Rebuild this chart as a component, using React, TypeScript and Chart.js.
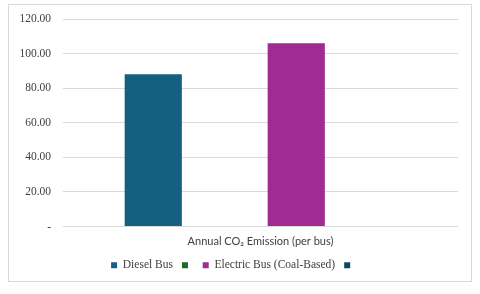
import React, { useEffect, useRef } from "react";
import { Chart, registerables } from "chart.js";

Chart.register(...registerables);

const categories = ["Annual CO\u2082 Emission (per bus)"];
const seriesNames = ["Diesel Bus", "", "Electric Bus (Coal-Based)", ""];
const dieselValues = [88.0];
const blankGreenValues: (number | null)[] = [null];
const electricValues = [106.0];
const blankNavyValues: (number | null)[] = [null];
const yTicks = [0, 20, 40, 60, 80, 100, 120];

const colors = ["#156082", "#196B24", "#A02B93", "#0F4761"];
const serif = "\"Liberation Serif\", \"Times New Roman\", serif";

export default function App() {
  const ref = useRef<HTMLCanvasElement | null>(null);
  useEffect(() => {
    if (!ref.current) return;
    const seriesData = [dieselValues, blankGreenValues, electricValues, blankNavyValues];
    const chart = new Chart(ref.current, {
      type: "bar",
      data: {
        labels: categories,
        datasets: seriesNames.map((name, i) => ({
          label: name,
          data: seriesData[i],
          backgroundColor: colors[i],
          borderWidth: 0,
          categoryPercentage: 0.724,
          barPercentage: 0.8,
        })),
      },
      options: {
        animation: false,
        responsive: false,
        maintainAspectRatio: false,
        layout: { padding: { top: 14, left: 0, right: 13, bottom: 0 } },
        plugins: {
          tooltip: { enabled: false },
          legend: {
            position: "bottom",
            labels: {
              boxWidth: 6,
              boxHeight: 6,
              padding: 9,
              color: "#404040",
              font: { family: serif, size: 11.5 },
            },
          },
        },
        scales: {
          x: {
            afterFit: (axis: any) => {
              axis.height = 24;
            },
            grid: { display: false, drawTicks: false, tickLength: 0 },
            border: { display: false },
            ticks: {
              color: "#404040",
              padding: 8,
              font: { family: "Lato, sans-serif", size: 11 },
            },
          },
          y: {
            min: 0,
            max: 120,
            afterFit: (axis: any) => {
              axis.width = 54;
              axis.paddingTop = 0;
            },
            afterBuildTicks: (axis: any) => {
              axis.ticks = yTicks.map((v) => ({ value: v }));
            },
            grid: { color: "#d9d9d9", lineWidth: 1, drawTicks: false },
            border: { display: false },
            ticks: {
              color: "#404040",
              padding: 12,
              font: { family: serif, size: 11.5 },
              callback: (v: any) => (Number(v) === 0 ? "-" : Number(v).toFixed(2)),
            },
          },
        },
      },
    });
    return () => chart.destroy();
  }, []);
  return (
    <div
      style={{
        position: "absolute",
        left: 8,
        top: 4,
        width: 464,
        height: 278,
        border: "1px solid #d9d9d9",
        boxSizing: "border-box",
        background: "#fff",
      }}
    >
      <canvas ref={ref} width={462} height={276} style={{ display: "block" }} />
    </div>
  );
}
